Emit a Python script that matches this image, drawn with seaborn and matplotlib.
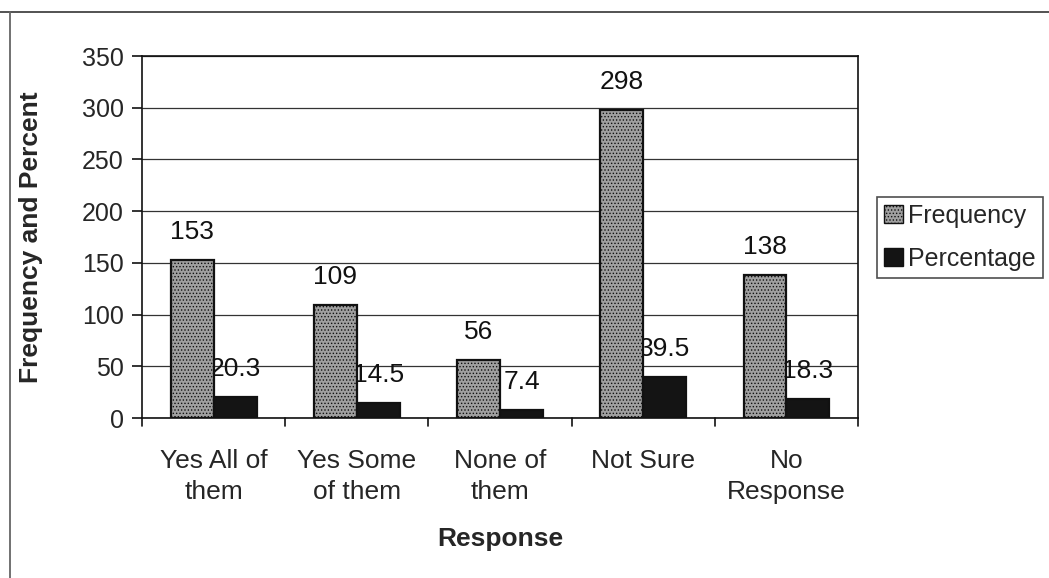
import matplotlib
matplotlib.use("Agg")
import matplotlib.pyplot as plt
from matplotlib.lines import Line2D
from matplotlib.patches import Patch
import seaborn as sns
import pandas as pd

categories = ["Yes All of\nthem", "Yes Some\nof them", "None of\nthem", "Not Sure", "No\nResponse"]
frequency = [153, 109, 56, 298, 138]
percentage = [20.3, 14.5, 7.4, 39.5, 18.3]
series_names = ["Frequency", "Percentage"]
y_ticks = [0, 50, 100, 150, 200, 250, 300, 350]

df = pd.DataFrame({
    "Response": categories * 2,
    "Value": frequency + percentage,
    "Series": [series_names[0]] * len(categories) + [series_names[1]] * len(categories),
})

sns.set_theme(style="white")
plt.rcParams["font.family"] = ["Liberation Sans", "DejaVu Sans"]
plt.rcParams["hatch.color"] = "#6e6e6e"
plt.rcParams["hatch.linewidth"] = 0.6

fig = plt.figure(figsize=(10.49, 5.78), dpi=100)
ax = fig.add_axes([0.1354, 0.2768, 0.6826, 0.6263])

freq_color = "#a0a0a0"
pct_color = "#141414"

sns.barplot(data=df, x="Response", y="Value", hue="Series", order=categories,
            hue_order=series_names, palette=[freq_color, pct_color],
            width=0.6, dodge=True, ax=ax, legend=False, zorder=3,
            edgecolor="#111111", linewidth=1.6)

# speckled texture on the frequency bars
for bar in ax.containers[0]:
    bar.set_hatch(".....")
    bar.set_edgecolor("#111111")

# value labels, drawn beneath the bars
for container, vals, fmt in [(ax.containers[0], frequency, "{:d}"), (ax.containers[1], percentage, "{:.1f}")]:
    for bar, v in zip(container, vals):
        cx = bar.get_x() + bar.get_width() / 2
        ax.annotate(fmt.format(v), xy=(cx, v), xytext=(0, 28), textcoords="offset pixels",
                    ha="center", va="center", fontsize=19, color="#111111", zorder=2)

ax.set_ylim(0, 350)
ax.set_xlim(-0.5, len(categories) - 0.5)
ax.set_yticks(y_ticks)
ax.yaxis.grid(True, color="#333333", linewidth=0.9, zorder=0)
ax.set_axisbelow(True)

# category labels centred, with boundary ticks between the categories
ax.set_xticks(range(len(categories)))
ax.set_xticklabels(categories, fontsize=19, linespacing=1.38)
ax.tick_params(axis="x", length=0, pad=22)
for b in [i - 0.5 for i in range(len(categories) + 1)]:
    ax.plot([b, b], [0, -0.022], transform=ax.get_xaxis_transform(), color="#111111",
            linewidth=1.2, clip_on=False)
ax.tick_params(axis="y", left=True, length=7, width=1.2, color="#111111", labelsize=18, pad=6)

for side in ["left", "bottom", "top", "right"]:
    ax.spines[side].set_visible(True)
    ax.spines[side].set_color("#111111")
    ax.spines[side].set_linewidth(1.2)

ax.set_xlabel("Response", fontsize=19, fontweight="bold", labelpad=17)
ax.set_ylabel("Frequency and Percent", fontsize=19, fontweight="bold", labelpad=28)

handles = [Patch(facecolor=freq_color, edgecolor="#111111", hatch=".....", label=series_names[0]),
           Patch(facecolor=pct_color, edgecolor="#111111", label=series_names[1])]
leg = fig.legend(handles=handles, loc="upper left", bbox_to_anchor=(0.836, 0.66),
                 fontsize=18, frameon=True, fancybox=False, handlelength=0.75,
                 handleheight=0.75, handletextpad=0.2, borderpad=0.3, labelspacing=0.75,
                 borderaxespad=0)
leg.get_frame().set_edgecolor("#222222")
leg.get_frame().set_linewidth(1.2)

# outer chart frame
fig.add_artist(Line2D([0, 1], [0.979, 0.979], transform=fig.transFigure, color="#444444", linewidth=1.3))
fig.add_artist(Line2D([0.0095, 0.0095], [0, 0.979], transform=fig.transFigure, color="#666666", linewidth=1.3))

fig.savefig("out.png", dpi=100)
